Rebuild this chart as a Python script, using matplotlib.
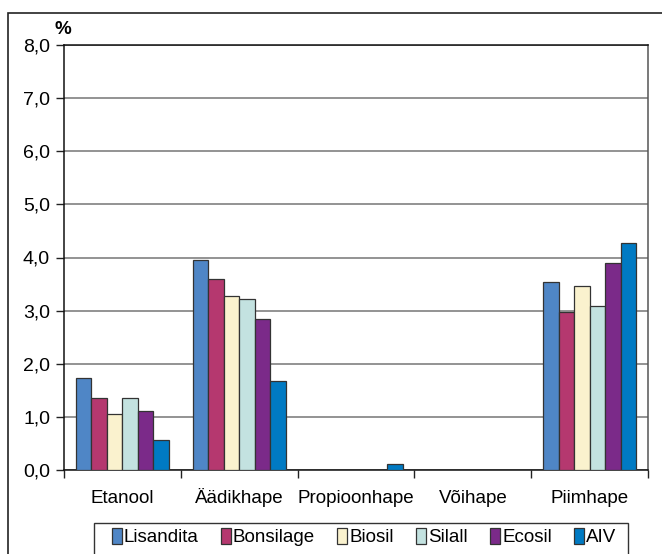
import matplotlib
matplotlib.use("Agg")
import matplotlib.pyplot as plt
import numpy as np
from matplotlib.patches import Rectangle

categories = ["Etanool", "Äädikhape", "Propioonhape", "Võihape", "Piimhape"]
series_names = ["Lisandita", "Bonsilage", "Biosil", "Silall", "Ecosil", "AIV"]
lisandita = [1.74, 3.96, 0.0, 0.0, 3.53]
bonsilage = [1.36, 3.60, 0.0, 0.0, 2.97]
biosil = [1.05, 3.28, 0.0, 0.0, 3.47]
silall = [1.36, 3.22, 0.0, 0.0, 3.09]
ecosil = [1.11, 2.85, 0.0, 0.0, 3.90]
aiv = [0.56, 1.67, 0.12, 0.0, 4.27]
yticks = [0, 1, 2, 3, 4, 5, 6, 7, 8]
ytick_labels = ["0,0", "1,0", "2,0", "3,0", "4,0", "5,0", "6,0", "7,0", "8,0"]

series = [lisandita, bonsilage, biosil, silall, ecosil, aiv]
colors = ["#4F86C6", "#B5386F", "#FAF2CE", "#C3E2E0", "#7B2A89", "#007AC3"]

plt.rcParams['font.family'] = ['Liberation Sans', 'DejaVu Sans']

W, H = 662, 554
fig = plt.figure(figsize=(W / 100, H / 100), dpi=100)
ax = fig.add_axes([64 / W, 1 - 470 / H, (648 - 64) / W, (470 - 45) / H])

x = np.arange(len(categories))
bw = 0.133
handles = []
for i, (vals, c, name) in enumerate(zip(series, colors, series_names)):
    b = ax.bar(x + (i - 2.5) * bw, vals, width=bw, color=c, edgecolor="#333333",
               linewidth=0.9, label=name, zorder=3)
    handles.append(b)

ax.set_xlim(-0.5, len(categories) - 0.5)
ax.set_ylim(0, 8)
ax.set_yticks(yticks)
ax.set_yticklabels(ytick_labels, fontsize=14)
ax.yaxis.grid(True, color="#808080", linewidth=1.2, zorder=0)
ax.set_axisbelow(True)
ax.tick_params(axis="y", direction="out", length=6, width=1, pad=4, color="#222222")

ax.set_xticks(x)
ax.set_xticklabels(categories, fontsize=13.5, va="baseline")
ax.tick_params(axis="x", which="major", length=0, pad=23.5)
ax.set_xticks(np.arange(-0.5, len(categories)), minor=True)
ax.tick_params(axis="x", which="minor", direction="out", length=6, width=1, color="#222222")

for s in ["left", "bottom", "top"]:
    ax.spines[s].set_color("#111111")
    ax.spines[s].set_linewidth(1.1)
ax.spines["right"].set_color("#555555")
ax.spines["right"].set_linewidth(1.1)

fig.text(63 / W, 1 - 29 / H, "%", fontsize=13.5, fontweight="bold", ha="center", va="center")

# outer frame
fig.add_artist(Rectangle((8 / W, -0.05), 1.1, 1 - 12.7 / H + 0.05, transform=fig.transFigure,
                         fill=False, edgecolor="#222222", linewidth=1.2))
# legend frame
fig.add_artist(Rectangle((94 / W, -0.05), (628 - 94) / W, 1 - 522.7 / H + 0.05,
                         transform=fig.transFigure, fill=False, edgecolor="#333333", linewidth=1.0))

leg = fig.legend(handles=handles, labels=series_names, loc="center",
                 bbox_to_anchor=(104 / W, 1 - 553 / H, (624 - 104) / W, 32 / H),
                 mode="expand", ncol=6, frameon=False, fontsize=13.5,
                 handlelength=0.55, handleheight=1.0, handletextpad=0.1,
                 columnspacing=0.3, borderaxespad=0)

fig.savefig("out.png", dpi=100)
